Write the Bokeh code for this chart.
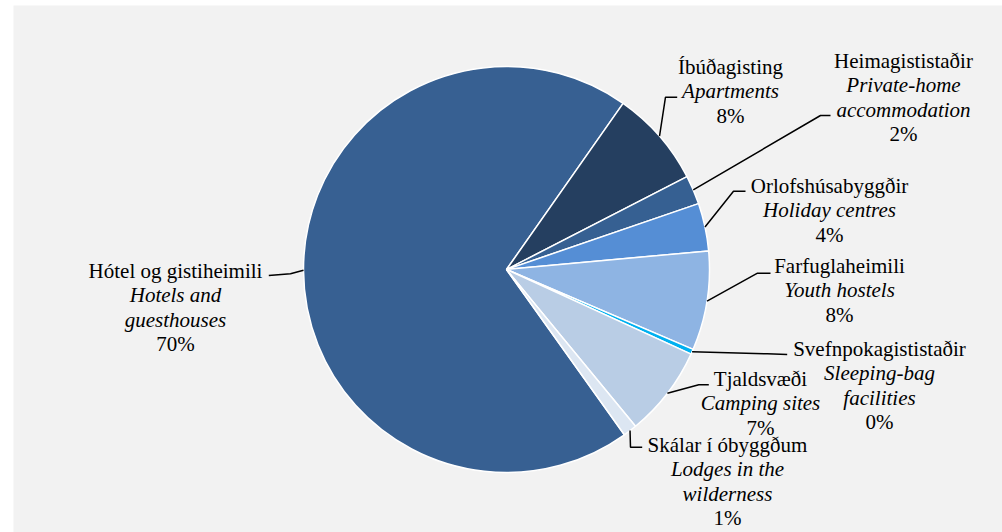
import numpy as np
from bokeh.plotting import figure
from bokeh.models import Range1d, ColumnDataSource
from bokeh.core.properties import value
from bokeh.embed import file_html
from bokeh.resources import INLINE

# ---- data ----
names_is = ["Hótel og gistiheimili", "Íbúðagisting", "Heimagististaðir",
            "Orlofshúsabyggðir", "Farfuglaheimili", "Svefnpokagististaðir",
            "Tjaldsvæði", "Skálar í óbyggðum"]
names_en = [["Hotels and", "guesthouses"], ["Apartments"], ["Private-home", "accommodation"],
            ["Holiday centres"], ["Youth hostels"], ["Sleeping-bag", "facilities"],
            ["Camping sites"], ["Lodges in the", "wilderness"]]
shares = [69.6, 7.7, 2.3, 3.8, 7.9, 0.4, 7.2, 1.1]
colors = ["#376092", "#253F60", "#366092", "#558ED5", "#8EB4E3", "#00B0F0", "#B9CDE5", "#DCE6F2"]

# ---- layout (screen px) ----
W, H = 1002, 532
def Y(s):
    return 532 - s
cx, cy, R = 506, Y(269), 203
first_angle = 144.5  # degrees clockwise from top
label_pos = [(175, 270), (730, 66), (903, 60), (829, 185), (839, 265), (879, 348), (760, 378), (727, 444)]
leader_pts = [[(290, 273.3), (268.3, 275)], [(665, 96.7), (676.7, 96.7)], [(820, 115), (830, 115)],
              [(733, 190.7), (745, 190.7)], [(757, 272.7), (770, 272.7)],
              [(766.7, 353.3), (786.7, 354)], [(698.3, 384.3), (708.3, 384.3)],
              [(630, 446.7), (641.7, 446.7)]]
LS = 24.5
FONT = value("Liberation Serif")
FS = "21px"

p = figure(width=W, height=H, x_range=Range1d(13, 1002), y_range=Range1d(0, 527),
           output_backend="svg", toolbar_location=None, min_border=0, min_border_left=13,
           min_border_top=5, border_fill_color="white", background_fill_color="#f2f2f2",
           outline_line_color=None)
p.axis.visible = False
p.grid.visible = False

vals = np.array(shares)
cum = np.concatenate([[0], np.cumsum(vals)]) / vals.sum() * 360.0 + first_angle
theta_a = np.radians(cum[:-1])
theta_b = np.radians(cum[1:])
src = ColumnDataSource(dict(start=np.pi / 2 - theta_a, end=np.pi / 2 - theta_b, color=colors))
p.wedge(x=cx, y=cy, radius=R, start_angle="start", end_angle="end", direction="clock",
        fill_color="color", line_color="white", line_width=1.5, source=src)

# leader lines
theta_m = (theta_a + theta_b) / 2
xs, ys = [], []
for i, pts in enumerate(leader_pts):
    ex = cx + R * np.sin(theta_m[i])
    ey = cy + R * np.cos(theta_m[i])
    xs.append([ex] + [q[0] for q in pts])
    ys.append([ey] + [Y(q[1]) for q in pts])
p.multi_line(xs=xs, ys=ys, line_color="black", line_width=1.5)

# labels
norm = dict(x=[], y=[], text=[])
ital = dict(x=[], y=[], text=[])
for i in range(len(names_is)):
    lx, ly = label_pos[i]
    lines = [(names_is[i], norm)] + [(e, ital) for e in names_en[i]] + [(f"{shares[i]:.0f}%", norm)]
    for k, (t, d) in enumerate(lines):
        d["x"].append(lx); d["y"].append(Y(ly + k * LS)); d["text"].append(t)
for d, st in ((norm, "normal"), (ital, "italic")):
    p.text(x="x", y="y", text="text", source=ColumnDataSource(d), text_font=FONT,
           text_font_style=st, text_font_size=FS, text_align="center",
           text_baseline="middle", text_color="black")

open("out.html", "w").write(file_html(p, INLINE))
